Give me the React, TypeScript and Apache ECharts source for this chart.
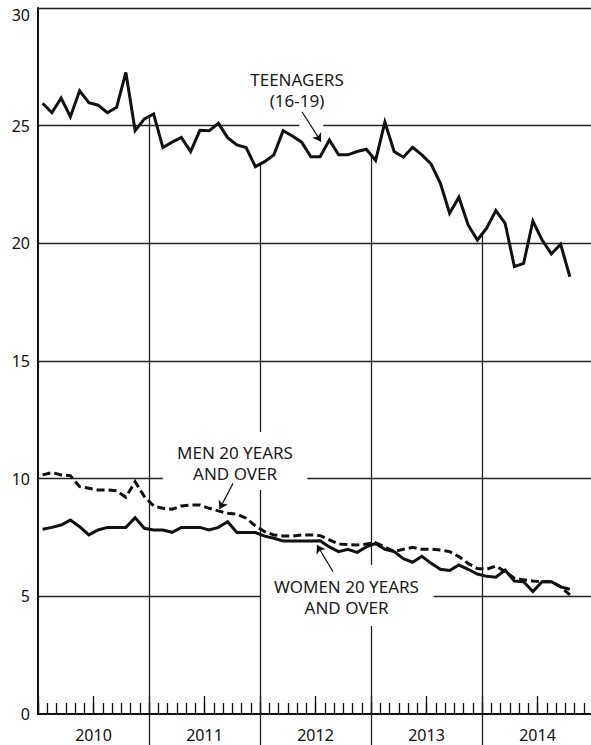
import { useEffect, useRef } from 'react';
import * as echarts from 'echarts';

// ---- data (monthly, Jan 2010 – Oct 2014), percent ----
const years = ['2010', '2011', '2012', '2013', '2014'];

const teenagers = [
  25.95, 25.55, 26.17, 25.38, 26.48, 25.98, 25.87, 25.55, 25.78, 27.26, 24.79, 25.29,
  25.5, 24.07, 24.3, 24.5, 23.9, 24.8, 24.78, 25.1, 24.49, 24.18, 24.07, 23.26,
  23.47, 23.76, 24.79, 24.56, 24.3, 23.68, 23.68, 24.39, 23.76, 23.76, 23.9, 24.0,
  23.52, 25.15, 23.9, 23.66, 24.08, 23.76, 23.37, 22.55, 21.28, 21.96, 20.78, 20.14,
  20.64, 21.39, 20.85, 19.01, 19.15, 20.95, 20.14, 19.55, 19.96, 18.58,
];

const men20 = [
  10.16, 10.26, 10.16, 10.13, 9.66, 9.59, 9.52, 9.52, 9.49, 9.21, 9.87, 9.24,
  8.84, 8.74, 8.7, 8.84, 8.88, 8.88, 8.74, 8.63, 8.53, 8.49, 8.32, 7.99,
  7.75, 7.61, 7.56, 7.56, 7.61, 7.61, 7.58, 7.4, 7.22, 7.2, 7.18, 7.22,
  7.28, 7.1, 6.9, 7.0, 7.08, 7.0, 7.0, 6.97, 6.9, 6.69, 6.4, 6.18,
  6.15, 6.29, 6.05, 5.77, 5.7, 5.65, 5.62, 5.62, 5.41, 5.06,
];

const women20 = [
  7.85, 7.93, 8.03, 8.24, 7.96, 7.61, 7.82, 7.93, 7.93, 7.93, 8.34, 7.89,
  7.82, 7.82, 7.72, 7.93, 7.93, 7.93, 7.82, 7.93, 8.17, 7.71, 7.71, 7.71,
  7.56, 7.47, 7.35, 7.35, 7.35, 7.35, 7.36, 7.1, 6.9, 7.0, 6.87, 7.1,
  7.25, 7.0, 6.9, 6.6, 6.45, 6.7, 6.4, 6.15, 6.1, 6.33, 6.15, 5.95,
  5.85, 5.81, 6.12, 5.65, 5.62, 5.2, 5.62, 5.62, 5.4, 5.3,
];

const FONT = '"Noto Sans", "DejaVu Sans", sans-serif';
const INK = '#111';

export default function App() {
  const ref = useRef<HTMLDivElement>(null);

  useEffect(() => {
    if (!ref.current) return;
    const chart = echarts.init(ref.current, null, { renderer: 'svg' });

    const pts = (arr: number[]) => arr.map((v, i) => [i + 0.5, v]);
    const seg = (a: number[], b: number[]) => [{ coord: a }, { coord: b }];
    const teenAt = (m: number) => (teenagers[m - 1] + teenagers[m]) / 2;

    // grid segments (data units), interrupted where the labels sit
    const gridSegs = [
      seg([0, 30], [60, 30]),
      seg([0, 25], [28.25, 25]),
      seg([30.84, 25], [60, 25]),
      seg([0, 20], [60, 20]),
      seg([0, 15], [60, 15]),
      seg([0, 10], [13.5, 10]),
      seg([29.1, 10], [60, 10]),
      seg([0, 5], [24, 5]),
      seg([42.77, 5], [60, 5]),
      seg([12, 0], [12, teenAt(12)]),
      seg([24, 0], [24, 9.52]),
      seg([24, 11.98], [24, teenAt(24)]),
      seg([36, 0], [36, 3.74]),
      seg([36, 6.33], [36, teenAt(36)]),
      seg([48, 0], [48, teenAt(48)]),
    ];

    const arrows = [
      seg([28.54, 25.59], [30.59, 24.32]),
      seg([21.08, 9.8], [19.63, 8.71]),
      seg([31.89, 6.05], [30.16, 7.18]),
    ];

    const lineSeries = (name: string, arr: number[], dashed: boolean) => ({
      name,
      type: 'line',
      data: pts(arr),
      symbol: 'none',
      showSymbol: false,
      z: 5,
      lineStyle: {
        color: INK,
        width: 3,
        join: 'miter',
        cap: 'butt',
        type: dashed ? [8, 4] : 'solid',
      },
    });

    const labelText = (text: string, x: number, y: number) => ({
      type: 'text',
      x,
      y,
      z: 10,
      style: {
        text,
        fill: '#1a1a1a',
        font: `17px ${FONT}`,
        fontSize: 17,
        fontFamily: FONT,
        lineHeight: 21,
        align: 'center',
        verticalAlign: 'middle',
        textAlign: 'center',
        textVerticalAlign: 'middle',
      },
    });

    chart.setOption({
      animation: false,
      grid: { left: 38, top: 8, width: 555, height: 706, outerBoundsMode: 'none', containLabel: false },
      xAxis: [
        {
          type: 'value', min: 0, max: 60, interval: 1, position: 'bottom',
          axisLine: { show: true, lineStyle: { color: INK, width: 2 } },
          axisTick: { show: true, inside: true, length: 11, lineStyle: { color: INK, width: 1.3 } },
          axisLabel: { show: false },
          splitLine: { show: false },
        },
        {
          type: 'value', min: 0, max: 60, interval: 6, position: 'bottom',
          axisLine: { show: false },
          axisTick: { show: true, inside: true, length: 18, lineStyle: { color: INK, width: 1.3 } },
          axisLabel: { show: false },
          splitLine: { show: false },
        },
        {
          type: 'value', min: 0, max: 60, position: 'bottom',
          axisLine: { show: false },
          axisTick: {
            show: true, inside: false, length: 32, customValues: [12, 24, 36, 48],
            lineStyle: { color: '#222', width: 1.3 },
          },
          axisLabel: {
            show: true, customValues: [6, 18, 30, 42, 54], margin: 13,
            formatter: (v: number) => years[Math.floor(v / 12)] ?? '',
            fontSize: 16, fontFamily: FONT, color: INK,
          },
          splitLine: { show: false },
        },
      ],
      yAxis: {
        type: 'value', min: 0, max: 30, interval: 5,
        axisLine: { show: true, lineStyle: { color: INK, width: 2 } },
        axisTick: { show: false },
        splitLine: { show: false },
        axisLabel: {
          margin: 8, fontSize: 16, fontFamily: FONT, color: INK,
          formatter: (v: number) => (v === 30 ? '{top|30}' : String(v)),
          rich: { top: { padding: [14, 0, 0, 0], fontSize: 16, fontFamily: FONT, color: INK } },
        },
      },
      series: [
        {
          type: 'line', data: [], z: 1, silent: true,
          markLine: {
            silent: true, animation: false, symbol: ['none', 'none'],
            label: { show: false },
            lineStyle: { color: '#222', width: 1.3, type: 'solid' },
            emphasis: { disabled: true },
            data: gridSegs,
          },
        },
        {
          type: 'line', data: [], z: 6, silent: true,
          markLine: {
            silent: true, animation: false, symbol: ['none', 'arrow'], symbolSize: 8,
            label: { show: false },
            lineStyle: { color: INK, width: 1.2, type: 'solid' },
            emphasis: { disabled: true },
            data: arrows,
          },
        },
        lineSeries('Teenagers (16-19)', teenagers, false),
        lineSeries('Men 20 years and over', men20, true),
        lineSeries('Women 20 years and over', women20, false),
      ],
      graphic: [
        labelText('TEENAGERS\n(16-19)', 297, 90),
        labelText('MEN 20 YEARS\nAND OVER', 235, 462.5),
        labelText('WOMEN 20 YEARS\nAND OVER', 346.5, 596.5),
      ],
    });

    return () => chart.dispose();
  }, []);

  return (
    <div
      ref={ref}
      style={{ position: 'absolute', left: 0, top: 0, width: 591, height: 745 }}
    />
  );
}
